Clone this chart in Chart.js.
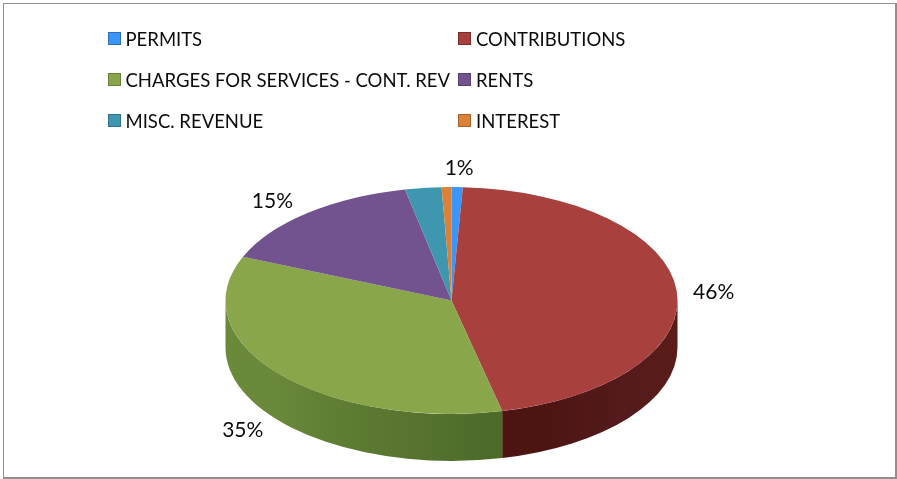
<!doctype html>
<html><head><meta charset="utf-8"><title>Revenue by source</title>
<script src="https://cdn.jsdelivr.net/npm/chart.js"></script>
<style>
html,body{margin:0;padding:0;background:#fff;overflow:hidden}
#wrap{position:relative;width:897px;height:479px}
#frame{position:absolute;left:3px;top:3px;width:891px;height:473px;border-style:solid;border-color:#8f8f8f;border-width:1.5px 2px 2px 1.5px;box-sizing:content-box}
#legend{position:absolute;left:108px;top:18px;display:grid;grid-template-columns:350.5px auto;grid-auto-rows:41px;font:18.5px Lato,sans-serif;color:#0c0c0c}
#legend div{display:flex;align-items:center;white-space:nowrap}
#legend i{display:block;width:11px;height:11px;border:1.5px solid;margin-right:5px;margin-left:-0.5px}
canvas{position:absolute;left:0;top:0}
</style>
</head><body>
<div id="wrap">
  <canvas id="pie" width="897" height="479"></canvas>
  <div id="frame"></div>
  <div id="legend"></div>
</div>
<script>
const categories = ['PERMITS', 'CONTRIBUTIONS', 'CHARGES FOR SERVICES - CONT. REV', 'RENTS', 'MISC. REVENUE', 'INTEREST'];
const shares = [0.8, 45.6, 34.9, 15.4, 2.6, 0.7];
const shareLabels = ['1%', '46%', '35%', '15%', '', ''];

const faceColors = ['#3b96fb', '#a8403e', '#89a64b', '#72538f', '#3e97af', '#dc8138'];
const edgeColors = ['#2f6fb8', '#7d2e2c', '#66803a', '#55406b', '#2f7186', '#a9622a'];
const labelNudges = [[2, -19], [37, 2], [-36, 57], [-35, -12], [0, 0], [0, 0]];

// squashes the library's arcs into an ellipse and puts a rim under them
const pie3d = {
  id: 'pie3d',
  beforeDatasetsDraw(chart, args, opts) {
    const ctx = chart.ctx;
    const arcs = chart.getDatasetMeta(0).data;
    const { x, y, outerRadius } = arcs[0];
    const ry = outerRadius * opts.squash;

    const rim = (a, b, stops) => {
      const g = ctx.createLinearGradient(opts.cx - outerRadius, 0, opts.cx + outerRadius, 0);
      stops.forEach(s => g.addColorStop(s[0], s[1]));
      ctx.beginPath();
      ctx.ellipse(opts.cx, opts.cy, outerRadius, ry, 0, a, b);
      ctx.ellipse(opts.cx, opts.cy + opts.depth, outerRadius, ry, 0, b, a, true);
      ctx.closePath();
      ctx.fillStyle = g;
      ctx.fill();
    };
    arcs.forEach((arc, i) => {
      const a = Math.max(arc.startAngle, 0);
      const b = Math.min(arc.endAngle, Math.PI);
      if (a >= b) return;
      rim(a, b, opts.rimStops[i] || [[0, edgeColors[i]], [1, edgeColors[i]]]);
    });

    ctx.save();
    ctx.translate(opts.cx, opts.cy);
    ctx.scale(1, opts.squash);
    ctx.translate(-x, -y);
  },
  afterDatasetsDraw(chart, args, opts) {
    const ctx = chart.ctx;
    ctx.restore();
    const arcs = chart.getDatasetMeta(0).data;
    ctx.fillStyle = '#0c0c0c';
    ctx.font = '21px Lato, sans-serif';
    ctx.textAlign = 'center';
    ctx.textBaseline = 'middle';
    arcs.forEach((arc, i) => {
      if (!shareLabels[i]) return;
      const mid = (arc.startAngle + arc.endAngle) / 2;
      const px = opts.cx + arc.outerRadius * Math.cos(mid) + labelNudges[i][0];
      const py = opts.cy + arc.outerRadius * opts.squash * Math.sin(mid) + labelNudges[i][1];
      ctx.fillText(shareLabels[i], px, py);
    });
  }
};

new Chart(document.getElementById('pie'), {
  type: 'pie',
  data: {
    labels: categories,
    datasets: [{ data: shares, backgroundColor: faceColors, borderWidth: 0, clip: false }]
  },
  options: {
    responsive: false,
    animation: false,
    layout: { padding: { top: 13, bottom: 14 } },
    plugins: {
      legend: { display: false },
      tooltip: { enabled: false },
      pie3d: {
        cx: 451.5, cy: 300.5, squash: 0.502, depth: 47,
        rimStops: {
          1: [[0, '#4c1511'], [0.7, '#4c1511'], [0.88, '#541a1c'], [1, '#5a1c18']],
          2: [[0, '#6a8a3a'], [0.1, '#6a893a'], [0.25, '#5f7d33'], [0.4, '#587430'], [0.6, '#4c6a28']]
        }
      }
    }
  },
  plugins: [pie3d]
});

const legend = document.getElementById('legend');
categories.forEach((name, i) => {
  const row = document.createElement('div');
  const box = document.createElement('i');
  box.style.background = faceColors[i];
  box.style.borderColor = edgeColors[i];
  row.appendChild(box);
  row.appendChild(document.createTextNode(name));
  legend.appendChild(row);
});
</script>
</body></html>
